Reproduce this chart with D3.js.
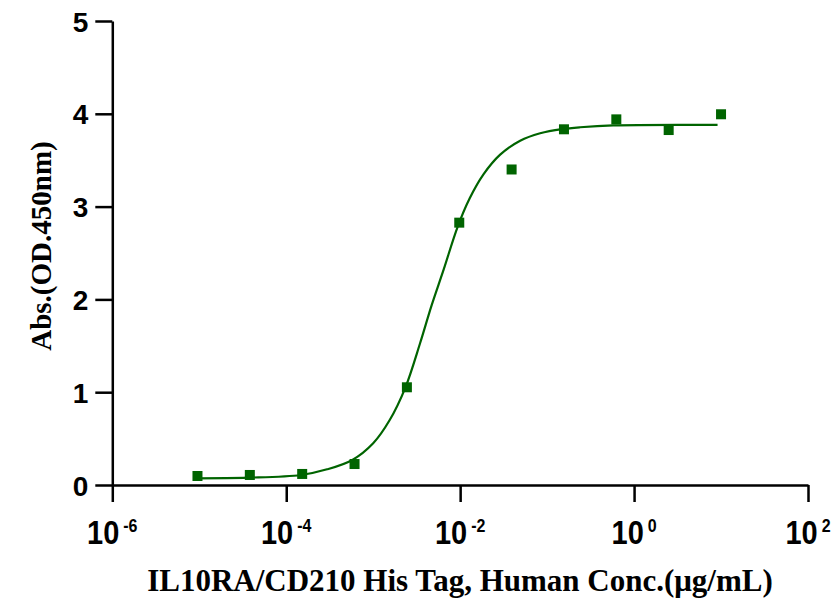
<!DOCTYPE html>
<html>
<head>
<meta charset="utf-8">
<script src="https://d3js.org/d3.v7.min.js"></script>
<style>
  html, body { margin: 0; padding: 0; background: #fff; }
</style>
</head>
<body>
<div id="chart"></div>
<script>
// measured points: 4-fold serial dilution from 10 ug/mL
const conc = [0.0000095367, 0.000038147, 0.00015259, 0.00061035, 0.0024414,
              0.0097656, 0.0390625, 0.15625, 0.625, 2.5, 10];
const absorbance = [0.097, 0.108, 0.119, 0.226, 1.053, 2.827, 3.40, 3.833, 3.94, 3.825, 3.995];

// fitted curve (log10 of concentration, absorbance)
const curveLogX = [-5.03, -4.44, -3.83, -3.53, -3.24, -3.00, -2.81, -2.63, -2.46, -2.33,
                   -2.19, -2.03, -1.89, -1.73, -1.54, -1.31, -1.08, -0.83, -0.62, -0.24, 0.96];
const curveY = [0.072, 0.079, 0.108, 0.169, 0.27, 0.45, 0.70, 1.05, 1.53, 1.93,
                2.32, 2.78, 3.09, 3.35, 3.56, 3.71, 3.79, 3.835, 3.855, 3.875, 3.88];

const xTickExp = [-6, -4, -2, 0, 2];
const yTicks = [0, 1, 2, 3, 4, 5];

const xTitle = "IL10RA/CD210 His Tag, Human Conc.(\u03bcg/mL)";
const yTitle = "Abs.(OD.450nm)";

const width = 840, height = 603;
const green = "#006400";

const svg = d3.select("#chart").append("svg")
    .attr("width", width)
    .attr("height", height);

const x = d3.scaleLog().domain([1e-6, 1e2]).range([112.3, 808]);
const y = d3.scaleLinear().domain([0, 5]).range([485, 21]);

// y axis
const yAxis = svg.append("g")
    .attr("transform", `translate(${x.range()[0]},0)`)
    .call(d3.axisLeft(y).tickValues(yTicks).tickSize(17).tickPadding(7).tickSizeOuter(0).tickFormat(d3.format("d")));
yAxis.select(".domain").attr("stroke-width", 2.5);
yAxis.selectAll(".tick line").attr("stroke-width", 2.5);
yAxis.selectAll(".tick text")
    .attr("font-family", "'Liberation Sans', Arial, sans-serif")
    .attr("font-weight", "bold")
    .attr("font-size", 28)
    .attr("dy", "0.36em")
    .attr("fill", "#000");

// x axis
const xAxis = svg.append("g")
    .attr("transform", `translate(0,${y(0)})`)
    .call(d3.axisBottom(x).tickValues(xTickExp.map(e => Math.pow(10, e))).tickSize(17).tickSizeOuter(0).tickFormat(""));
xAxis.select(".domain").attr("stroke-width", 2.5);
xAxis.selectAll(".tick line").attr("stroke-width", 2.5);

// x tick labels: 10 with superscript exponent
const xLab = svg.append("g")
    .attr("font-family", "'Liberation Sans', Arial, sans-serif")
    .attr("font-weight", "bold")
    .attr("fill", "#000");
xTickExp.forEach(e => {
    const t = xLab.append("text")
        .attr("text-anchor", "middle")
        .attr("transform", `translate(${x(Math.pow(10, e))},544) scale(1,1.17)`);
    t.append("tspan").attr("font-size", 29).text("10");
    t.append("tspan").attr("font-size", 16).attr("dx", 4).attr("dy", -10.5).text(e);
});

// fitted curve
const line = d3.line()
    .x(d => x(Math.pow(10, d)))
    .y((d, i) => y(curveY[i]))
    .curve(d3.curveCatmullRom.alpha(0.5));
svg.append("path")
    .datum(curveLogX)
    .attr("fill", "none")
    .attr("stroke", green)
    .attr("stroke-width", 2.2)
    .attr("d", line);

// data points
const sz = 10;
svg.append("g").selectAll("rect")
    .data(conc)
    .join("rect")
    .attr("x", d => x(d) - sz / 2)
    .attr("y", (d, i) => y(absorbance[i]) - sz / 2)
    .attr("width", sz)
    .attr("height", sz)
    .attr("fill", green);

// axis titles
svg.append("text")
    .attr("transform", `translate(460,591)`)
    .attr("text-anchor", "middle")
    .attr("font-family", "'Liberation Serif', 'Times New Roman', serif")
    .attr("font-weight", "bold")
    .attr("font-size", 31)
    .attr("fill", "#000")
    .text(xTitle);

svg.append("text")
    .attr("transform", `translate(51,246) rotate(-90)`)
    .attr("text-anchor", "middle")
    .attr("font-family", "'Liberation Serif', 'Times New Roman', serif")
    .attr("font-weight", "bold")
    .attr("font-size", 29)
    .attr("fill", "#000")
    .text(yTitle);
</script>
</body>
</html>
